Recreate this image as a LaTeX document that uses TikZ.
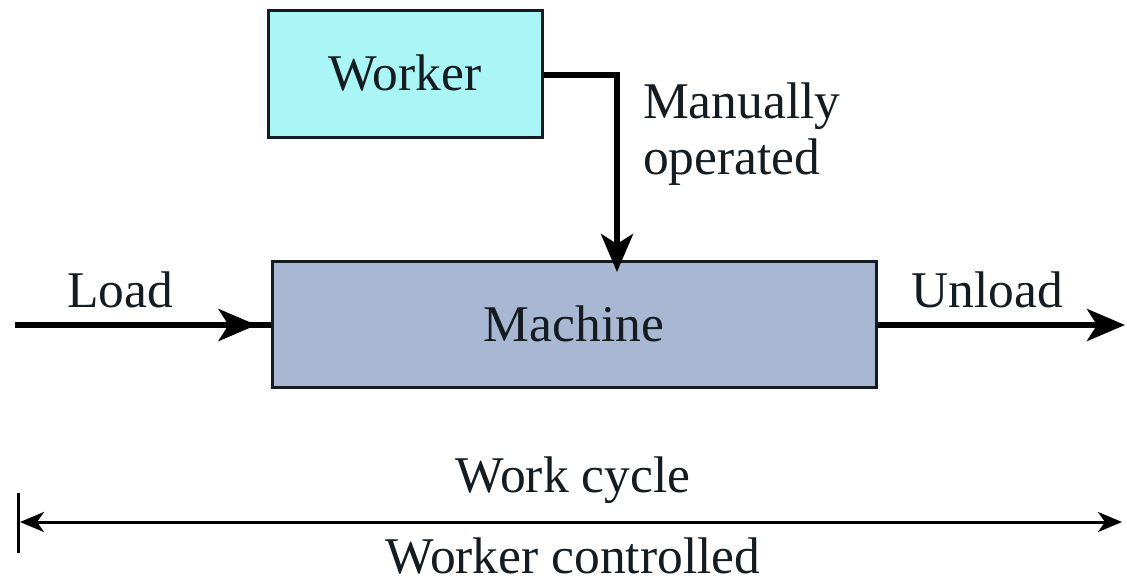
\documentclass[tikz,border=0pt]{standalone}
\usepackage{fontspec}
\setmainfont{Liberation Serif}
\usetikzlibrary{arrows.meta}
\definecolor{workerfill}{RGB}{170,246,246}
\definecolor{machinefill}{RGB}{168,184,210}
\definecolor{ink}{RGB}{20,28,34}
\tikzset{
  block/.style={draw=ink, line width=3pt, inner sep=0pt},
  label/.style={inner sep=0pt, text=ink, font=\fontsize{51.5}{60}\selectfont},
  heavy/.style={line width=6pt},
  bigtip/.style={-{Stealth[length=38pt,width=32pt,inset=10pt]}},
  thin/.style={line width=3pt},
  smalltip/.tip={Stealth[length=24pt,width=20pt,inset=7pt]},
}
\begin{document}
\begin{tikzpicture}[x=1pt,y=-1pt]
\useasboundingbox (0,0) rectangle (1127,582);

% boxes
\node[block, fill=workerfill, minimum width=274pt, minimum height=127pt] (worker) at (405,73.5) {};
\node[label] at (worker.center) {Worker};
\node[block, fill=machinefill, minimum width=604pt, minimum height=126pt] (machine) at (574,324) {};
\node[label] (mtext) at (machine.center) {Machine};

% worker to machine
\coordinate (bend) at (617,75);
\coordinate (mtop) at (617,261);
\draw[heavy] (worker.east |- bend) -- (bend) -- (mtop);
\draw[heavy, bigtip] (bend) -- ([yshift=-11pt]mtop);
\node[label, anchor=west, align=left] (manual) at (643,134) {Manually\\[-4pt]operated};

% load and unload
\coordinate (loadstart) at (15,325);
\coordinate (unloadend) at (1125,325);
\draw[heavy] (loadstart) -- (machine.west |- loadstart);
\draw[heavy, bigtip] (loadstart) -- ([xshift=-14pt]machine.west |- loadstart);
\draw[heavy, bigtip] (machine.east |- unloadend) -- (unloadend);
\node[label] (load) at (120,290) {Load};
\node[label] (unload) at (987,290) {Unload};

% work cycle span
\coordinate (bartop) at (18,493);
\coordinate (barbot) at (18,553);
\coordinate (cycL) at (20,522);
\coordinate (cycR) at (1122,522);
\draw[thin] (bartop) -- (barbot);
\draw[thin, smalltip-smalltip] (cycL) -- (cycR);
\node[label] (cycle) at (573,480) {Work cycle};
\node[label] (ctrl) at (573,556) {Worker controlled};
\end{tikzpicture}
\end{document}
